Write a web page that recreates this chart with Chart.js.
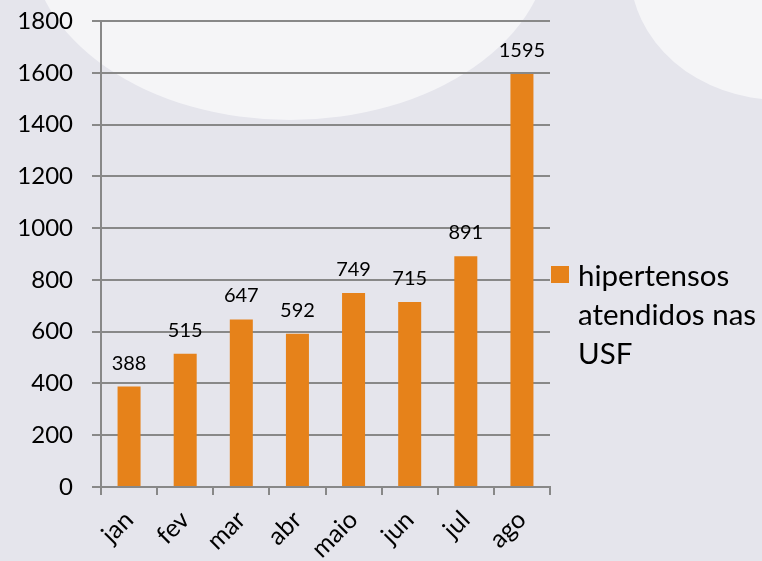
<!DOCTYPE html>
<html>
<head>
<meta charset="utf-8">
<script src="https://cdn.jsdelivr.net/npm/chart.js"></script>
<style>
  html, body { margin: 0; padding: 0; background: #e5e5ec; }
  #wrap { position: relative; width: 762px; height: 561px; }
  #legend {
    position: absolute; left: 551px; top: 255px;
    font-family: Lato, sans-serif; font-size: 29.5px; line-height: 39px; color: #000;
  }
  #legend .box {
    position: absolute; left: 0; top: 11px; width: 18px; height: 17px; background: #e6821a;
  }
  #legend .txt { margin-left: 27px; width: 210px; }
</style>
</head>
<body>
<div id="wrap">
  <canvas id="hipChart" width="762" height="561"></canvas>
  <div id="legend"><span class="box"></span><div class="txt">hipertensos<br>atendidos nas<br>USF</div></div>
</div>

<script>
    // dados
    const months = ['jan', 'fev', 'mar', 'abr', 'maio', 'jun', 'jul', 'ago'];
    const patients = [388, 515, 647, 592, 749, 715, 891, 1595];
    const seriesName = 'hipertensos atendidos nas USF';

    // fundo com marca d'agua clara
    const backgroundPlugin = {
        id: 'bg',
        beforeDraw(chart) {
            const c = chart.ctx;
            c.save();
            c.fillStyle = '#e5e5ec';
            c.fillRect(0, 0, chart.width, chart.height);
            c.fillStyle = 'rgba(255,255,255,0.6)';
            c.beginPath();
            c.ellipse(290, -60, 260, 180, 0, 0, Math.PI * 2);
            c.fill();
            c.beginPath();
            c.ellipse(780, -30, 150, 130, 0, 0, Math.PI * 2);
            c.fill();
            c.restore();
        }
    };

    // rótulos de valor acima das barras
    const valueLabels = {
        id: 'valueLabels',
        afterDatasetsDraw(chart) {
            const c = chart.ctx;
            const meta = chart.getDatasetMeta(0);
            c.save();
            c.font = '20px Lato, sans-serif';
            c.fillStyle = '#000';
            c.textAlign = 'center';
            c.textBaseline = 'alphabetic';
            meta.data.forEach((bar, i) => {
                c.fillText(chart.data.datasets[0].data[i], bar.x, bar.y - 17);
            });
            c.restore();
        }
    };

    const ctx = document.getElementById('hipChart').getContext('2d');
    new Chart(ctx, {
        type: 'bar',
        data: {
            labels: months,
            datasets: [{
                label: seriesName,
                data: patients,
                backgroundColor: '#e6821a',
                borderWidth: 0,
                categoryPercentage: 1,
                barPercentage: 0.41
            }]
        },
        options: {
            responsive: false,
            animation: false,
            layout: { padding: { top: 21, right: 212, bottom: 0, left: 0 } },
            plugins: {
                legend: { display: false },
                tooltip: { enabled: false }
            },
            scales: {
                x: {
                    grid: { drawOnChartArea: false, drawTicks: true, tickLength: 8, color: '#888', lineWidth: 2 },
                    border: { color: '#888', width: 2 },
                    ticks: {
                        color: '#000',
                        font: { family: 'Lato, sans-serif', size: 25 },
                        minRotation: 45, maxRotation: 45, padding: 10
                    },
                    afterFit(scale) { scale.height = 74; }
                },
                y: {
                    min: 0, max: 1800,
                    grid: { color: '#888', lineWidth: 2, tickLength: 9 },
                    border: { color: '#888', width: 2 },
                    ticks: {
                        stepSize: 200, color: '#000', padding: 19,
                        font: { family: 'Lato, sans-serif', size: 24 },
                        callback: v => String(v)
                    },
                    afterFit(scale) {
                        scale.width = 101;
                        scale.paddingTop = 0;
                        scale.paddingBottom = 0;
                    }
                }
            }
        },
        plugins: [backgroundPlugin, valueLabels]
    });
</script>
</body>
</html>
